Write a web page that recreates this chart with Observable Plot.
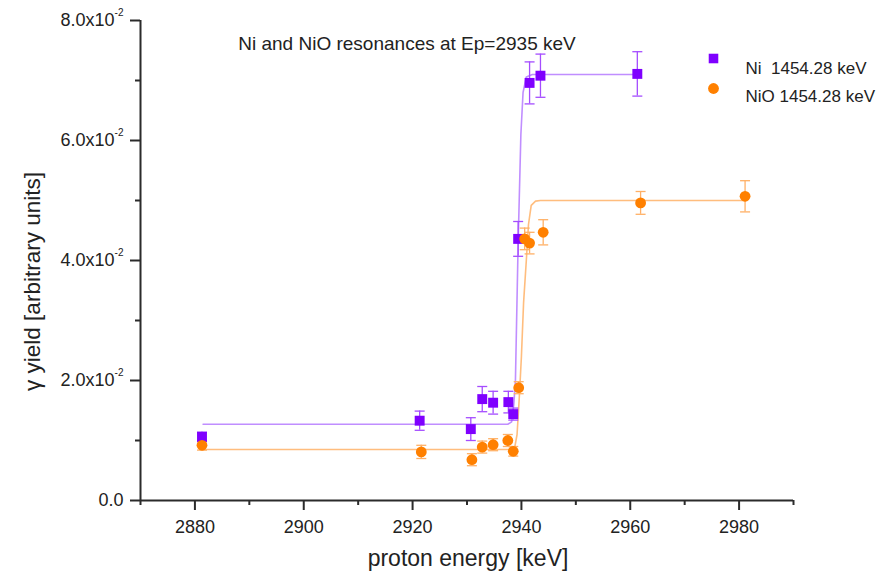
<!DOCTYPE html>
<html>
<head>
<meta charset="utf-8">
<script src="https://cdn.jsdelivr.net/npm/d3@7"></script>
<script src="https://cdn.jsdelivr.net/npm/@observablehq/plot@0.6"></script>
<style>
  html, body { margin: 0; padding: 0; background: #fff; }
  #chart { width: 887px; height: 579px; }
</style>
</head>
<body>
<div id="chart"></div>
<script>
// ---- Data ----
const titleText = "Ni and NiO resonances at Ep=2935 keV";
const xLabel = "proton energy [keV]";
const yLabel = "γ yield [arbitrary units]";
const seriesNames = ["Ni\u00a0 1454.28 keV", "NiO 1454.28 keV"];

// Ni 1454.28 keV (purple squares)
const niEnergy = [2881.3, 2921.3, 2930.7, 2932.8, 2934.8, 2937.6, 2938.5, 2939.4, 2941.5, 2943.5, 2961.3];
const niYield  = [0.0106, 0.0133, 0.0119, 0.0169, 0.0163, 0.0164, 0.0144, 0.0436, 0.0696, 0.0708, 0.0711];
const niError  = [0.0008, 0.0016, 0.0019, 0.0021, 0.0019, 0.0018, 0.0010, 0.0029, 0.0035, 0.0036, 0.0037];

// NiO 1454.28 keV (orange circles)
const nioEnergy = [2881.3, 2921.6, 2930.9, 2932.8, 2934.8, 2937.5, 2938.5, 2939.5, 2940.6, 2941.5, 2944.0, 2961.9, 2981.1];
const nioYield  = [0.0092, 0.0081, 0.0068, 0.0089, 0.0093, 0.0100, 0.0082, 0.0188, 0.0436, 0.0429, 0.0447, 0.0496, 0.0507];
const nioError  = [0.0008, 0.0011, 0.0010, 0.0010, 0.0010, 0.0010, 0.0008, 0.0010, 0.0018, 0.0018, 0.0021, 0.0019, 0.0026];

// Fitted step curves
const niFitEnergy = [2881.5, 2937.5, 2938.2, 2938.6, 2938.9, 2939.4, 2939.9, 2940.3, 2940.9, 2942.0, 2961.5];
const niFitYield  = [0.0127, 0.0127, 0.0131, 0.0160, 0.0200, 0.0430, 0.0610, 0.0680, 0.0706, 0.0710, 0.0710];
const nioFitEnergy = [2881.3, 2938.3, 2938.8, 2939.2, 2939.6, 2940.0, 2940.4, 2940.9, 2941.3, 2941.8, 2942.6, 2943.5, 2981.2];
const nioFitYield  = [0.0085, 0.0085, 0.0090, 0.0110, 0.0170, 0.0240, 0.0330, 0.0400, 0.0460, 0.0492, 0.0499, 0.0500, 0.0500];

// Axes
const xDomain = [2870, 2990];
const yDomain = [0, 0.08];
const xTicks = [2880, 2900, 2920, 2940, 2960, 2980];
const xMinorTicks = [2870, 2890, 2910, 2930, 2950, 2970, 2990];
const yTicks = [0, 0.02, 0.04, 0.06, 0.08];
const yTickMantissa = ["0.0", "2.0", "4.0", "6.0", "8.0"];
const yTickExponent = "-2";
const yMinorTicks = [0.01, 0.03, 0.05, 0.07];

// ---- Build tables ----
const ni = niEnergy.map((x, i) => ({x, y: niYield[i], e: niError[i]}));
const nio = nioEnergy.map((x, i) => ({x, y: nioYield[i], e: nioError[i]}));
const niFit = niFitEnergy.map((x, i) => ({x, y: niFitYield[i]}));
const nioFit = nioFitEnergy.map((x, i) => ({x, y: nioFitYield[i]}));

const purple = "#7f00ff", purpleLight = "#a54dff", purpleLine = "#b57aff";
const orange = "#ff8000", orangeLight = "#ffb066", orangeLine = "#ffb670";
const axisColor = "#2b2b2b";

const cap = {draw(ctx) { ctx.moveTo(-5, 0); ctx.lineTo(5, 0); }};

const errorMarks = (data, color) => [
  Plot.ruleX(data, {x: "x", y1: d => d.y - d.e, y2: d => d.y + d.e, stroke: color, strokeWidth: 1.3}),
  Plot.dot(data, {x: "x", y: d => d.y + d.e, symbol: cap, stroke: color, strokeWidth: 1.3, fill: "none"}),
  Plot.dot(data, {x: "x", y: d => d.y - d.e, symbol: cap, stroke: color, strokeWidth: 1.3, fill: "none"})
];

const chart = Plot.plot({
  width: 887,
  height: 579,
  marginLeft: 140,
  marginRight: 94,
  marginTop: 20,
  marginBottom: 79,
  style: {fontFamily: "'Liberation Sans', Arial, sans-serif", color: "#222", background: "#fff"},
  x: {domain: xDomain},
  y: {domain: yDomain},
  marks: [
    // fit curves
    Plot.line(niFit, {x: "x", y: "y", stroke: purpleLine, strokeWidth: 1.6, strokeOpacity: 0.85}),
    Plot.line(nioFit, {x: "x", y: "y", stroke: orangeLine, strokeWidth: 1.6, strokeOpacity: 0.9}),
    // error bars
    ...errorMarks(ni, purpleLight),
    ...errorMarks(nio, orangeLight),
    // points
    Plot.dot(ni, {x: "x", y: "y", symbol: "square", r: 5.6, fill: purple}),
    Plot.dot(nio, {x: "x", y: "y", symbol: "circle", r: 5.4, fill: orange}),
    // axes lines
    Plot.ruleY([yDomain[0]], {stroke: axisColor, strokeWidth: 2}),
    Plot.ruleX([xDomain[0]], {stroke: axisColor, strokeWidth: 2}),
    // x axis
    Plot.axisX(xTicks, {tickSize: 10, tickPadding: 10, fontSize: 18, stroke: axisColor, strokeWidth: 2, label: null, tickFormat: d => String(d)}),
    Plot.axisX(xMinorTicks, {tickSize: 5, stroke: axisColor, strokeWidth: 2, label: null, tickFormat: () => ""}),
    // y axis
    Plot.axisY(yTicks, {tickSize: 10, tickPadding: 7, fontSize: 18, stroke: axisColor, strokeWidth: 2, label: null,
      tickFormat: d => { const i = yTicks.indexOf(d); return i === 0 ? yTickMantissa[i] : yTickMantissa[i] + "x10^" + yTickExponent; }}),
    Plot.axisY(yMinorTicks, {tickSize: 5, stroke: axisColor, strokeWidth: 2, label: null, tickFormat: () => ""}),
    // axis titles
    Plot.text([xLabel], {text: d => d, frameAnchor: "bottom", dx: 1, dy: 65, fontSize: 23, fill: "#222"}),
    Plot.text([yLabel], {text: d => d, frameAnchor: "left", textAnchor: "middle", rotate: -90, dx: -108, dy: 21, fontSize: 22.5, fill: "#222"}),
    // chart title
    Plot.text([titleText], {text: d => d, frameAnchor: "top", dx: -60, dy: 16, fontSize: 19, fill: "#222"}),
    // legend
    Plot.dot([seriesNames[0]], {frameAnchor: "top-right", dx: -80, dy: 38, symbol: "square", r: 5.4, fill: purple}),
    Plot.dot([seriesNames[1]], {frameAnchor: "top-right", dx: -80, dy: 68, symbol: "circle", r: 5.4, fill: orange}),
    Plot.text([seriesNames[0]], {text: d => d, frameAnchor: "top-right", dx: -48, dy: 41.5, textAnchor: "start", fontSize: 17, fill: "#222"}),
    Plot.text([seriesNames[1]], {text: d => d, frameAnchor: "top-right", dx: -48, dy: 69.5, textAnchor: "start", fontSize: 17, fill: "#222"})
  ]
});

// Render "x10^-2" as a real superscript
d3.select(chart).selectAll('g[aria-label="y-axis tick label"] text').each(function() {
  const t = this.textContent;
  const k = t.indexOf("^");
  if (k < 0) return;
  const base = t.slice(0, k), exp = t.slice(k + 1);
  const sel = d3.select(this);
  sel.text(null);
  sel.append("tspan").text(base);
  sel.append("tspan").attr("dy", "-10").attr("font-size", 10).text(exp);
});

document.getElementById("chart").appendChild(chart);
</script>
</body>
</html>
